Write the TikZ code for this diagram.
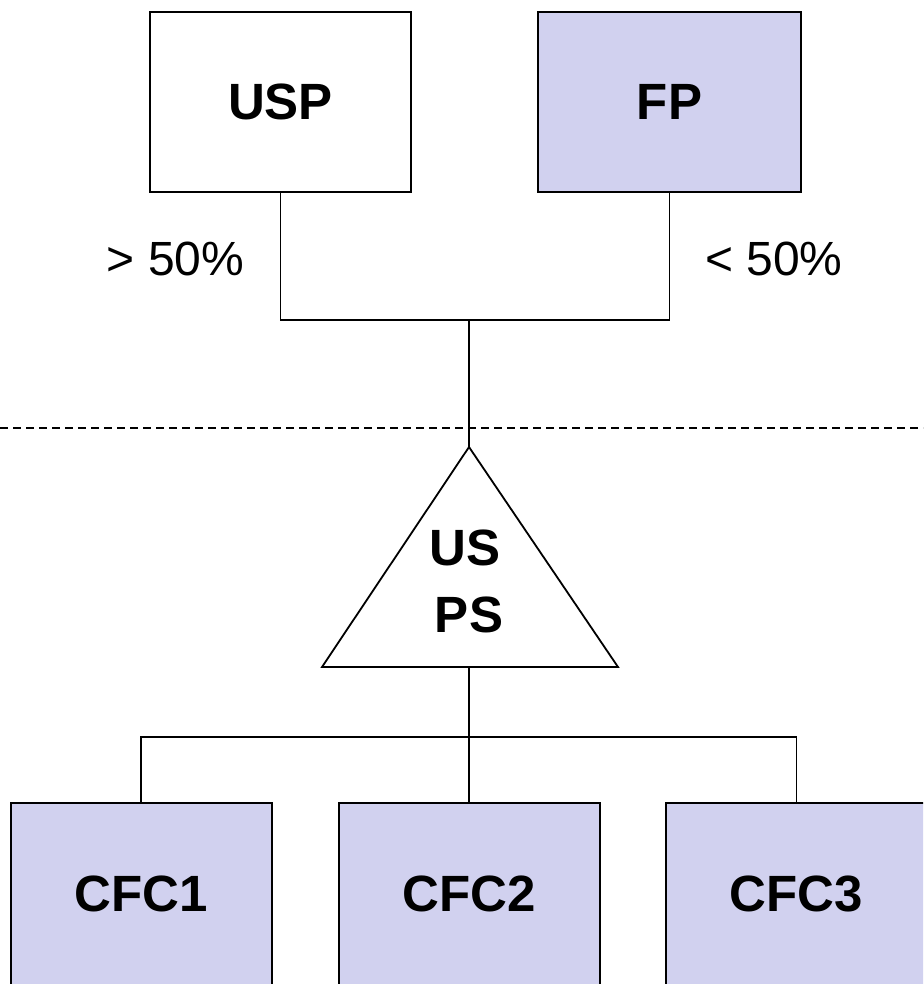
\documentclass[tikz,border=0pt]{standalone}
\usepackage{fontspec}
\setmainfont{Liberation Sans}
\definecolor{lav}{RGB}{209,209,239}
\begin{document}
\begin{tikzpicture}[x=1pt,y=-1pt,
  box/.style={draw=black, line width=2pt, minimum width=261pt, minimum height=180pt, inner sep=0pt, font=\fontsize{51}{61}\selectfont\bfseries},
  conn/.style={line width=1.3pt},
  lbl/.style={font=\fontsize{48}{58}\selectfont, inner sep=0pt}]
\clip (0,0) rectangle (923,984);
\fill[white] (0,0) rectangle (923,984);
\node[box] (usp) at (280.5,102) {USP};
\node[box, fill=lav, minimum width=263pt] (fp) at (669.5,102) {FP};
\coordinate (jt) at (469,320);
\draw[conn] (usp.south) |- (jt) -| (fp.south);
\coordinate (apex) at (469,447);
\coordinate (bl) at (322,667);
\coordinate (br) at (618,667);
\coordinate (tb) at (469,667);
\draw[conn] (jt) -- (apex);
\coordinate (dl) at (0,428);
\coordinate (dr) at (923,428);
\draw[conn, dash pattern=on 8pt off 5pt] (dl) -- (dr);
\draw[line width=1.8pt, line join=miter] (apex) -- (br) -- (bl) -- cycle;
\node[font=\fontsize{51}{67}\selectfont\bfseries, align=center, inner sep=0pt] (usps) at (469,581) {US\hspace*{8pt}\\PS};
\node[box, fill=lav, minimum height=182pt] (cfc1) at (141,894) {CFC1};
\node[box, fill=lav, minimum height=182pt] (cfc2) at (469,894) {CFC2};
\node[box, fill=lav, minimum height=182pt] (cfc3) at (796.5,894) {CFC3};
\coordinate (jb) at (469,737);
\draw[conn] (tb) -- (cfc2.north);
\draw[conn] (cfc1.north) |- (jb) -| (cfc3.north);
\node[lbl, anchor=base] (l1) at (175.5,275) {> 50\%};
\node[lbl, anchor=base] (l2) at (774,275) {< 50\%};
\end{tikzpicture}
\end{document}
